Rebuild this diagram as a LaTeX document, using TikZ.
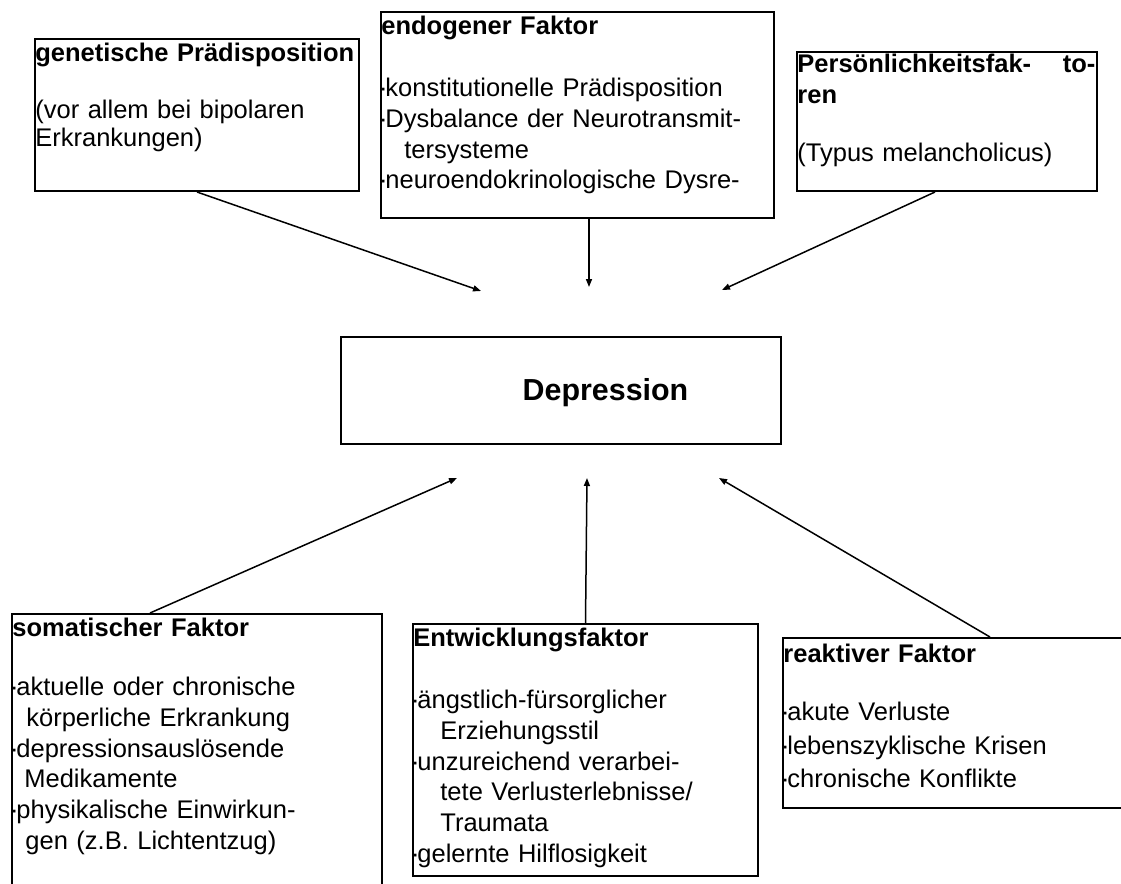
\documentclass[tikz,border=0pt]{standalone}
\usepackage{fontspec}
\setmainfont{Liberation Sans}
\usetikzlibrary{arrows.meta}
\newcommand{\dotitem}{\makebox[2pt][c]{\textperiodcentered}}
\begin{document}
\begin{tikzpicture}[x=0.5pt,y=-0.5pt,
  factorbox/.style={draw=black,line width=1pt,inner sep=0pt},
  factortext/.style={anchor=north west,inner xsep=0.5pt,inner ysep=2.4pt,align=left,
    font=\fontsize{12.75}{15.4}\selectfont},
  cause/.style={-{Triangle[length=4pt,width=3pt]},line width=0.75pt}]
\useasboundingbox (0,0) rectangle (1121,884);
\clip (0,0) rectangle (1121,884);
\node[factorbox,minimum width=162pt,minimum height=76pt] (gen) at (197,115) {};
\node[factorbox,minimum width=196.5pt,minimum height=103pt] (endo) at (577.5,115) {};
\node[factorbox,minimum width=150pt,minimum height=69.5pt] (pers) at (947,121.5) {};
\node[factorbox,minimum width=220pt,minimum height=53.5pt] (dep) at (561,390.5) {};
\node[factorbox,minimum width=185pt,minimum height=148pt] (soma) at (197,762) {};
\node[factorbox,minimum width=172.5pt,minimum height=126pt] (entw) at (585.5,750) {};
\node[factorbox,minimum width=207pt,minimum height=85pt] (reak) at (990,723) {};
\node[factortext,text width=161pt,font=\fontsize{12.75}{14.2}\selectfont] (gentext) at (gen.north west)
  {\textbf{genetische Prädisposition}\\[14pt]
   (vor allem bei bipolaren\\Erkrankungen)};
\node[factortext,text width=195pt] (endotext) at (endo.north west)
  {\textbf{endogener Faktor}\\[15.5pt]
   \dotitem konstitutionelle Prädisposition\\
   \dotitem Dysbalance der Neurotransmit-\\
   \hspace*{11.5pt}tersysteme\\
   \dotitem neuroendokrinologische Dysre-};
\node[factortext,text width=149pt,inner ysep=1.2pt] (perstext) at (pers.north west)
  {\textbf{Persönlichkeitsfak-\hfill to-}\\
   \textbf{ren}\\[14pt]
   (Typus melancholicus)};
\node[anchor=base,font=\fontsize{15.2}{18}\selectfont\bfseries] (deptext) at (605.5,400) {Depression};
\node[factortext,text width=184pt] (somatext) at (soma.north west)
  {\textbf{somatischer Faktor}\\[14pt]
   \dotitem aktuelle oder chronische\\
   \hspace*{7pt}körperliche Erkrankung\\
   \dotitem depressionsauslösende\\
   \hspace*{6pt}Medikamente\\
   \dotitem physikalische Einwirkun-\\
   \hspace*{6.5pt}gen (z.B. Lichtentzug)};
\node[factortext,text width=171pt] (entwtext) at (entw.north west)
  {\textbf{Entwicklungsfaktor}\\[15.5pt]
   \dotitem ängstlich-fürsorglicher\\
   \hspace*{13.5pt}Erziehungsstil\\
   \dotitem unzureichend verarbei-\\
   \hspace*{13.5pt}tete Verlusterlebnisse/\\
   \hspace*{13.5pt}Traumata\\
   \dotitem gelernte Hilflosigkeit};
\node[factortext,text width=206pt,inner ysep=3.5pt,font=\fontsize{12.75}{16.8}\selectfont] (reaktext) at (reak.north west)
  {\textbf{reaktiver Faktor}\\[12pt]
   \dotitem akute Verluste\\
   \dotitem lebenszyklische Krisen\\
   \dotitem chronische Konflikte};
\coordinate (tiptl) at (481,291);
\coordinate (tiptm) at (589,287);
\coordinate (tiptr) at (722,290);
\coordinate (tipbl) at (457,478);
\coordinate (tipbm) at (587,478);
\coordinate (tipbr) at (719,478);
\draw[cause] (gen.south) -- (tiptl);
\draw[cause] (endo.south -| tiptm) -- (tiptm);
\draw[cause] ([xshift=-6pt]pers.south) -- (tiptr);
\draw[cause] ([xshift=-23.5pt]soma.north) -- (tipbl);
\draw[cause] (entw.north) -- (tipbm);
\draw[cause] (reak.north) -- (tipbr);
\end{tikzpicture}
\end{document}
